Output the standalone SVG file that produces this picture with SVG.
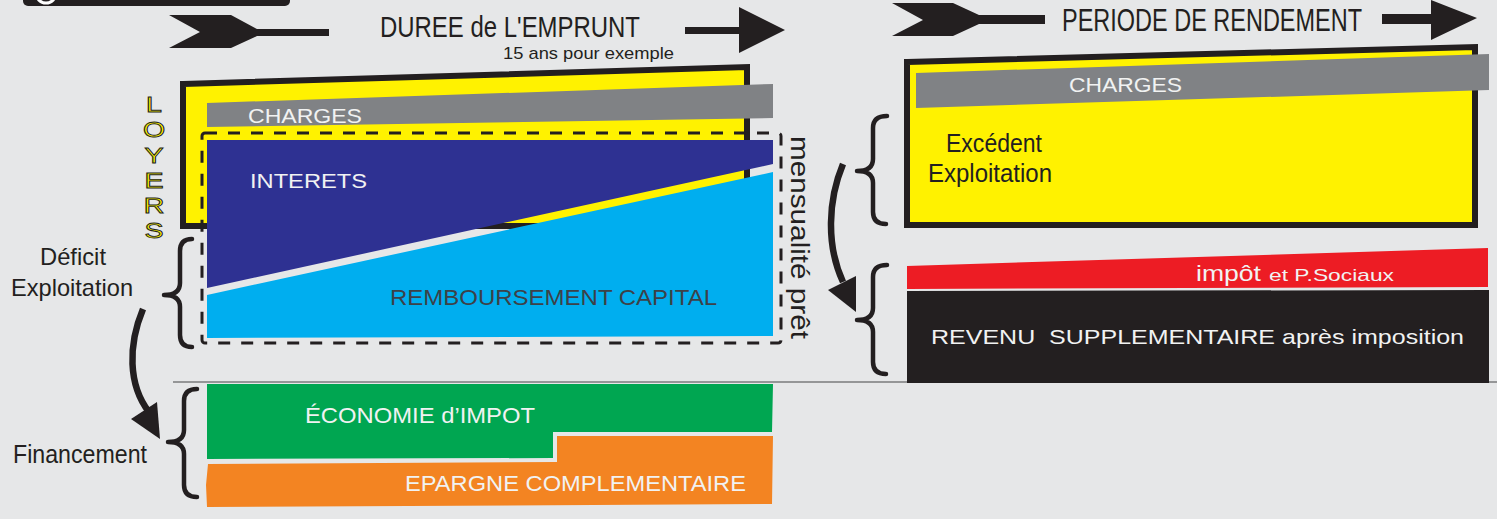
<svg xmlns="http://www.w3.org/2000/svg" width="1497" height="519" viewBox="0 0 1497 519">
  <style>
    text { font-family: "Liberation Sans", Arial, sans-serif; }
    .dark { fill: #231f20; }
    .light { fill: #f1f2f2; }
    .bandtxt { fill: #f1f2f2; font-size: 21px; }
    .brace { fill: none; stroke: #231f20; stroke-width: 4.5; stroke-linecap: round; stroke-linejoin: round; }
    .shaft { fill: none; stroke: #231f20; stroke-width: 6.5; }
    .loyer { fill: #fff200; stroke: #231f20; stroke-width: 0.9; font-size: 22px; }
  </style>

  <!-- page background -->
  <rect x="0" y="0" width="1497" height="519" fill="#e6e7e8"/>

  <!-- title tab cut by the top edge -->
  <g id="title-tab">
    <rect x="23" y="-20" width="267" height="26" rx="5" fill="#231f20"/>
    <circle cx="46" cy="-7" r="10" fill="none" stroke="#ffffff" stroke-width="3"/>
  </g>

  <!-- time axis: loan duration -->
  <g id="axis-loan">
    <polygon class="dark" points="169,15 231,15 257,29 329,29 329,36 257,36 231,48 169,48 200,32"/>
    <text class="dark" x="380" y="37" font-size="30" textLength="260" lengthAdjust="spacingAndGlyphs">DUREE de L'EMPRUNT</text>
    <text class="dark" x="503" y="59" font-size="17" textLength="171" lengthAdjust="spacingAndGlyphs">15 ans pour exemple</text>
    <polygon class="dark" points="685,27 739,27 739,7 785,30 739,53 739,34 685,34"/>
  </g>

  <!-- time axis: yield period -->
  <g id="axis-yield">
    <polygon class="dark" points="892,3 953,3 979,15 1045,15 1045,24 979,24 953,36 892,36 923,20"/>
    <text class="dark" x="1062" y="31" font-size="31" textLength="300" lengthAdjust="spacingAndGlyphs">PERIODE DE RENDEMENT</text>
    <polygon class="dark" points="1382,14 1431,14 1431,0 1477,18 1431,40 1431,24 1382,24"/>
  </g>

  <!-- rents block -->
  <g id="loyers">
    <polygon points="183,84 747,67 747,226 183,226" fill="#fff200" stroke="#231f20" stroke-width="6"/>
    <g transform="translate(154,0) scale(1.3,1)">
      <text class="loyer" x="0" y="112" text-anchor="middle">L</text>
      <text class="loyer" x="0" y="137" text-anchor="middle">O</text>
      <text class="loyer" x="0" y="163" text-anchor="middle">Y</text>
      <text class="loyer" x="0" y="188" text-anchor="middle">E</text>
      <text class="loyer" x="0" y="213" text-anchor="middle">R</text>
      <text class="loyer" x="0" y="238" text-anchor="middle">S</text>
    </g>
  </g>

  <g id="charges-loan">
    <polygon points="207,103 773,84 773,118 207,127" fill="#808285"/>
    <text class="bandtxt" x="248" y="123" textLength="114" lengthAdjust="spacingAndGlyphs">CHARGES</text>
  </g>

  <g id="interets">
    <polygon points="207,140 773,140 773,164 207,288" fill="#2e3192"/>
    <text class="bandtxt" x="250" y="188" textLength="117" lengthAdjust="spacingAndGlyphs">INTERETS</text>
  </g>

  <g id="capital">
    <polygon points="207,295 773,172 773,336 207,338" fill="#00aeef"/>
    <text x="390" y="305" font-size="22" fill="#3d4148" textLength="327" lengthAdjust="spacingAndGlyphs">REMBOURSEMENT CAPITAL</text>
  </g>

  <!-- monthly instalment outline -->
  <g id="mensualite">
    <rect x="202" y="133" width="579" height="210" rx="3" fill="none" stroke="#231f20" stroke-width="3" stroke-dasharray="12 11"/>
    <text class="dark" transform="translate(791,136) rotate(90)" x="0" y="0" font-size="26" textLength="203" lengthAdjust="spacingAndGlyphs">mensualité prêt</text>
  </g>

  <g id="deficit">
    <text class="dark" x="40" y="265" font-size="24" textLength="66" lengthAdjust="spacingAndGlyphs">Déficit</text>
    <text class="dark" x="11" y="296" font-size="24" textLength="122" lengthAdjust="spacingAndGlyphs">Exploitation</text>
  </g>

  <g id="economie-impot">
    <polygon points="207,384 773,384 772,432 553,432 553,458 207,459" fill="#00a651"/>
    <text class="light" x="305" y="423" font-size="22" textLength="230" lengthAdjust="spacingAndGlyphs">ÉCONOMIE d’IMPOT</text>
  </g>

  <g id="epargne">
    <polygon points="208,464 557,462 557,436 773,436 772,504 207,507 206,485" fill="#f38422"/>
    <text class="light" x="405" y="491" font-size="22" textLength="341" lengthAdjust="spacingAndGlyphs">EPARGNE COMPLEMENTAIRE</text>
  </g>

  <g id="financement">
    <text class="dark" x="13" y="463" font-size="25" textLength="134" lengthAdjust="spacingAndGlyphs">Financement</text>
  </g>

  <!-- operating surplus block -->
  <g id="excedent">
    <polygon points="907,62 1475,47 1475,225 907,225" fill="#fff200" stroke="#231f20" stroke-width="6"/>
    <text class="dark" x="946" y="152" font-size="25" textLength="96" lengthAdjust="spacingAndGlyphs">Excédent</text>
    <text class="dark" x="928" y="182" font-size="25" textLength="124" lengthAdjust="spacingAndGlyphs">Exploitation</text>
  </g>

  <g id="charges-yield">
    <polygon points="916,73 1489,54 1489,90 916,108" fill="#808285"/>
    <text class="bandtxt" x="1069" y="92" textLength="113" lengthAdjust="spacingAndGlyphs">CHARGES</text>
  </g>

  <g id="impot">
    <polygon points="907,266 1488,248 1488,287 907,289" fill="#ed1c24"/>
    <text class="light" y="281">
      <tspan x="1196" font-size="22" textLength="65" lengthAdjust="spacingAndGlyphs">impôt</tspan>
      <tspan x="1269" font-size="17" textLength="125" lengthAdjust="spacingAndGlyphs">et P.Sociaux</tspan>
    </text>
  </g>

  <!-- separator between operation and financing -->
  <line x1="173" y1="382" x2="1497" y2="382" stroke="#7a7b7d" stroke-width="1.5"/>

  <g id="revenu">
    <polygon points="907,291 1489,290 1489,383 907,383" fill="#231f20"/>
    <text class="light" x="931" y="344" font-size="21" style="white-space:pre" textLength="533" lengthAdjust="spacingAndGlyphs">REVENU  SUPPLEMENTAIRE après imposition</text>
  </g>

  <!-- braces and flow arrows -->
  <g id="connectors">
    <path class="brace" d="M192,239 Q180,239 180,251 L180,283 Q180,295 164,295 Q180,295 180,307 L180,335 Q180,347 192,347"/>
    <path class="brace" d="M197,389 Q184,389 184,401 L184,430 Q184,442 168,442 Q184,442 184,454 L184,485 Q184,497 197,497"/>
    <path class="brace" d="M887,116 Q873,116 873,128 L873,159 Q873,171 857,171 Q873,171 873,183 L873,212 Q873,224 886,224"/>
    <path class="brace" d="M887,265 Q873,265 873,277 L873,308 Q873,320 857,320 Q873,320 873,332 L873,362 Q873,374 886,374"/>

    <path class="shaft" d="M143,309 C128,345 128,385 149,412"/>
    <polygon class="dark" points="131,419 157,402 160,439"/>

    <path class="shaft" d="M843,164 C828,200 826,245 843,282"/>
    <polygon class="dark" points="828,290 856,276 856,312"/>
  </g>
</svg>
